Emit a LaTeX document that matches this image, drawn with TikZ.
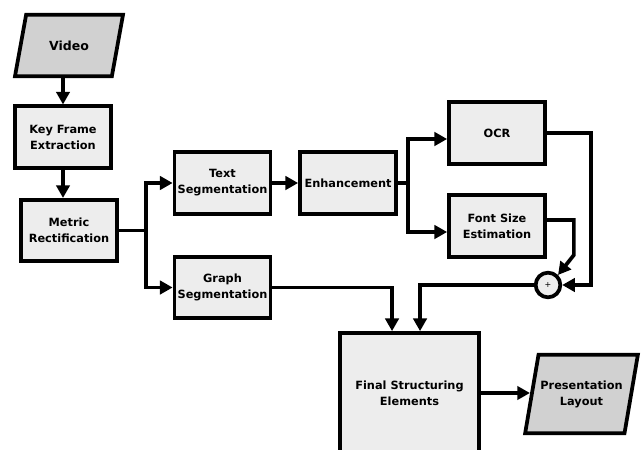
\documentclass[tikz,border=0pt]{standalone}
\usepackage{fontspec}
\setmainfont{DejaVu Sans}
\usetikzlibrary{arrows.meta,shapes.geometric}
\begin{document}
\begin{tikzpicture}[x=0.75pt,y=-0.75pt,line width=2.8pt,
		font=\fontsize{8.5}{12}\selectfont\bfseries,
		block/.style={draw,fill=black!7,align=center,minimum width=72pt,minimum height=46pt,inner sep=1pt},
		io/.style={draw,fill=black!18,align=center,trapezium,trapezium left angle=66,trapezium right angle=114,trapezium stretches=true,inner sep=1pt},
		sum/.style={draw,fill=black!7,circle,minimum size=18.5pt,inner sep=0pt,font=\fontsize{6}{6}\selectfont},
		arr/.style={-{Triangle[length=9.5pt,width=10pt]}}]
		\useasboundingbox (0,0) rectangle (641,449);
		\clip (0,0) rectangle (641,449);
		\node[io,minimum width=81pt,minimum height=46pt,font=\fontsize{9.4}{12}\selectfont\bfseries] (video) at (69,45.5) {Video};
		\node[block] (keyframe) at (63,137) {Key Frame\\Extraction};
		\node[block] (metric) at (69,230.5) {Metric\\Rectification};
		\node[block] (textseg) at (222.5,183) {Text\\Segmentation};
		\node[block] (graphseg) at (222.5,287.5) {Graph\\Segmentation};
		\node[block] (enh) at (348,183) {Enhancement};
		\node[block] (ocr) at (497,133) {OCR};
		\node[block] (fontsize) at (497,226) {Font Size\\Estimation};
		\node[sum] (sum) at (548,285) {+};
		\node[block,minimum width=104pt,minimum height=90pt] (final) at (409.5,393) {Final Structuring\\Elements};
		\node[io,minimum width=85pt,minimum height=59pt] (pres) at (581.5,394) {Presentation\\Layout};
		\draw[arr] (keyframe.north |- video.south) -- (keyframe.north);
		\draw[arr] (keyframe.south) -- (keyframe.south |- metric.north);
		\draw[arr] (metric.east) -- ++(27,0) |- (textseg.west);
		\draw[arr] (metric.east) -- ++(27,0) |- (graphseg.west);
		\draw[arr] (textseg) -- (enh);
		\draw[arr] (enh.east) -- ++(10,0) |- ([yshift=-4.5pt]ocr.west);
		\draw[arr] (enh.east) -- ++(10,0) |- ([yshift=-4.5pt]fontsize.west);
		\draw[arr] (ocr.east) -- ++(44,0) |- (sum.east);
		\draw[arr] ([yshift=4.5pt]fontsize.east) -- ++(27,0) -- ++(0,35) -- (sum.north east);
		\draw[arr] (sum.west) -| ([xshift=7.9pt]final.north);
		\draw[arr] (graphseg.east) -| ([xshift=-13.1pt]final.north);
		\draw[arr] (final.east) -- (final.east -| pres.west);
	\end{tikzpicture}
\end{document}
